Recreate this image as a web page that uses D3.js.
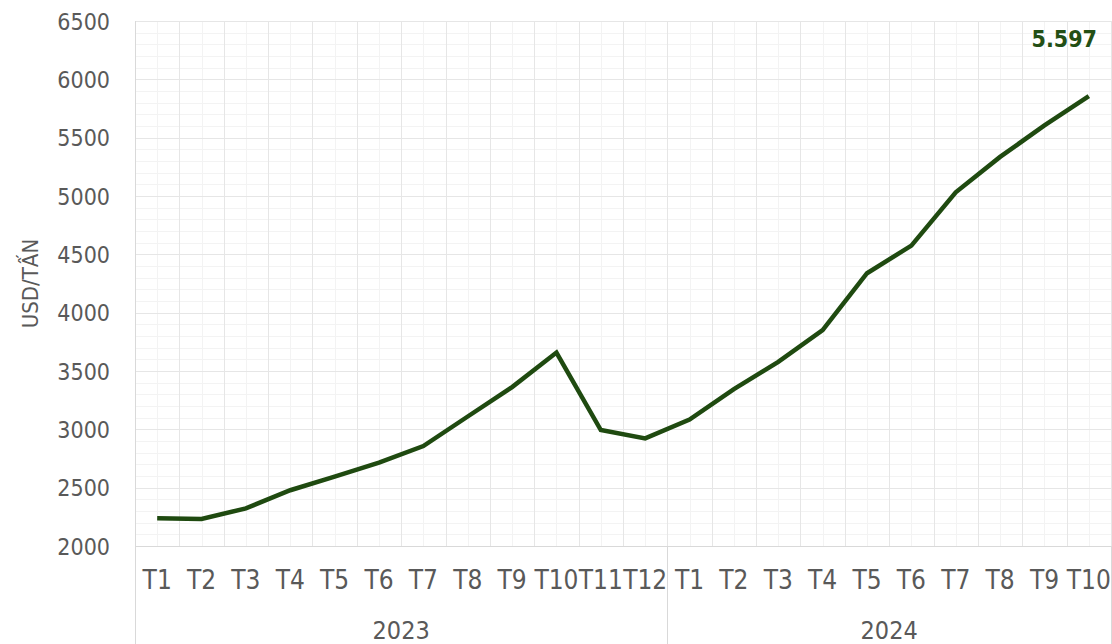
<!DOCTYPE html>
<html>
<head>
<meta charset="utf-8">
<script src="https://cdn.jsdelivr.net/npm/d3@7"></script>
<style>
  html, body { margin: 0; padding: 0; background: #fff; }
  svg { display: block; }
  text { font-family: Tahoma, "DejaVu Sans Condensed", "Liberation Sans", sans-serif; fill: #595959; }
</style>
</head>
<body>
<svg id="chart"></svg>
<script>
const width = 1112, height = 644;
const plotLeft = 135, plotRight = 1111, plotTop = 21, plotBottom = 546;

// data
const years = ["2023", "2024"];
const months2023 = ["T1","T2","T3","T4","T5","T6","T7","T8","T9","T10","T11","T12"];
const months2024 = ["T1","T2","T3","T4","T5","T6","T7","T8","T9","T10"];
const values2023 = [2237, 2231, 2323, 2478, 2595, 2715, 2857, 3110, 3362, 3658, 2994, 2922];
const values2024 = [3084, 3344, 3578, 3850, 4338, 4575, 5032, 5335, 5605, 5857];
const yTicks = [2000, 2500, 3000, 3500, 4000, 4500, 5000, 5500, 6000, 6500];
const yTitle = "USD/TẤN";
const lastLabel = "5.597";

const lineColor = "#1f4a10";
const majorGrid = "#e6e6e6";
const minorGrid = "#f3f3f3";
const axisColor = "#d9d9d9";

// flat list of points, one per month
var points = [];
months2023.forEach((m, i) => points.push({ key: "2023-" + i, month: m, year: "2023", value: values2023[i] }));
months2024.forEach((m, i) => points.push({ key: "2024-" + i, month: m, year: "2024", value: values2024[i] }));

var svg = d3.select("#chart").attr("width", width).attr("height", height);

var x = d3.scaleBand()
  .domain(points.map(d => d.key))
  .range([plotLeft, plotRight])
  .padding(0);

var y = d3.scaleLinear()
  .domain([2000, 6500])
  .range([plotBottom, plotTop]);

var grid = svg.append("g").attr("class", "grid");

// minor horizontal gridlines every 100
grid.selectAll(".hminor")
  .data(d3.range(2000, 6501, 100))
  .enter().append("line")
  .attr("x1", plotLeft).attr("x2", plotRight)
  .attr("y1", d => Math.round(y(d)) + 0.5).attr("y2", d => Math.round(y(d)) + 0.5)
  .style("stroke", minorGrid);

// minor vertical gridlines at category centers
grid.selectAll(".vminor")
  .data(points)
  .enter().append("line")
  .attr("x1", d => Math.round(x(d.key) + x.bandwidth() / 2) + 0.5)
  .attr("x2", d => Math.round(x(d.key) + x.bandwidth() / 2) + 0.5)
  .attr("y1", plotTop).attr("y2", plotBottom)
  .style("stroke", minorGrid);

// major horizontal gridlines
grid.selectAll(".hmajor")
  .data(yTicks)
  .enter().append("line")
  .attr("x1", plotLeft).attr("x2", plotRight)
  .attr("y1", d => Math.round(y(d)) + 0.5).attr("y2", d => Math.round(y(d)) + 0.5)
  .style("stroke", majorGrid);

// major vertical gridlines at category boundaries
grid.selectAll(".vmajor")
  .data(points.slice(1).map(d => x(d.key)).concat([plotRight]))
  .enter().append("line")
  .attr("x1", d => Math.round(d) + 0.5).attr("x2", d => Math.round(d) + 0.5)
  .attr("y1", plotTop).attr("y2", plotBottom)
  .style("stroke", majorGrid);

// y axis labels
var yAxis = svg.append("g")
  .attr("transform", `translate(${plotLeft - 25},0)`)
  .call(d3.axisLeft(y).tickValues(yTicks).tickSize(0).tickPadding(0).tickFormat(d3.format("d")));
yAxis.select(".domain").remove();
yAxis.selectAll("text")
  .attr("dy", "0.36em")
  .style("font-size", "23px")
  .style("fill", "#595959");

// axis lines
svg.append("line")
  .attr("x1", plotLeft).attr("x2", plotRight)
  .attr("y1", plotBottom + 0.5).attr("y2", plotBottom + 0.5)
  .style("stroke", axisColor);
svg.append("line")
  .attr("x1", plotLeft + 0.5).attr("x2", plotLeft + 0.5)
  .attr("y1", plotTop).attr("y2", height)
  .style("stroke", axisColor);

// month labels
var xAxis = svg.append("g")
  .attr("transform", `translate(0,${plotBottom})`)
  .call(d3.axisBottom(x).tickSize(0).tickPadding(0).tickFormat(k => points.find(p => p.key === k).month));
xAxis.select(".domain").remove();
xAxis.selectAll("text")
  .attr("y", 43)
  .attr("dy", 0)
  .style("font-size", "26px")
  .style("fill", "#595959");

// year groups
var groups = years.map(yr => {
  var ks = points.filter(p => p.year === yr).map(p => p.key);
  return { year: yr, x0: x(ks[0]), x1: x(ks[ks.length - 1]) + x.bandwidth() };
});

svg.selectAll(".sep")
  .data(groups)
  .enter().append("line")
  .attr("x1", d => Math.round(d.x1) + 0.5).attr("x2", d => Math.round(d.x1) + 0.5)
  .attr("y1", plotBottom).attr("y2", height)
  .style("stroke", axisColor);

svg.selectAll(".year")
  .data(groups)
  .enter().append("text")
  .attr("x", d => (d.x0 + d.x1) / 2)
  .attr("y", 639)
  .attr("text-anchor", "middle")
  .style("font-size", "25px")
  .text(d => d.year);

// y title
svg.append("text")
  .attr("transform", `translate(38,${(plotTop + plotBottom) / 2}) rotate(-90)`)
  .attr("text-anchor", "middle")
  .style("font-size", "22px")
  .text(yTitle);

// the line
var line = d3.line()
  .x(d => x(d.key) + x.bandwidth() / 2)
  .y(d => y(d.value));

svg.append("path")
  .datum(points)
  .attr("d", line)
  .style("fill", "none")
  .style("stroke", lineColor)
  .style("stroke-width", 4.5)
  .style("stroke-linejoin", "miter");

// value label top right
svg.append("text")
  .attr("x", 1097)
  .attr("y", 47)
  .attr("text-anchor", "end")
  .style("font-size", "23px")
  .style("font-weight", "bold")
  .style("fill", "#234f15")
  .text(lastLabel);
</script>
</body>
</html>
